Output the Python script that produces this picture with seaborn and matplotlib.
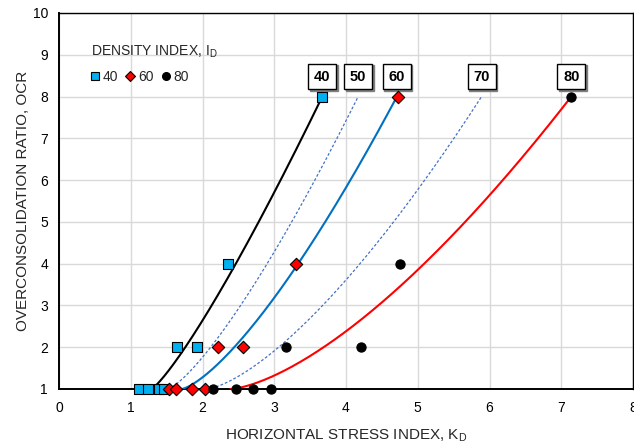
import numpy as np
import pandas as pd
import matplotlib
matplotlib.use("Agg")
import matplotlib.pyplot as plt
import matplotlib.transforms as mtransforms
from matplotlib.lines import Line2D
from matplotlib.ticker import MultipleLocator
import seaborn as sns

sns.set_style("white")
plt.rcParams["font.family"] = ["Liberation Sans", "DejaVu Sans"]
plt.rcParams["mathtext.fontset"] = "custom"
plt.rcParams["mathtext.rm"] = "Liberation Sans"

# Measured points: horizontal stress index K_D and OCR for each density index
kd_40 = [1.12, 1.24, 1.39, 1.47, 1.65, 1.92, 2.35, 3.67]
ocr_40 = [1, 1, 1, 1, 2, 2, 4, 8]
kd_60 = [1.54, 1.63, 1.86, 2.03, 2.21, 2.57, 3.30, 4.72]
ocr_60 = [1, 1, 1, 1, 2, 2, 4, 8]
kd_80 = [2.14, 2.46, 2.70, 2.95, 3.17, 4.21, 4.75, 7.14]
ocr_80 = [1, 1, 1, 1, 2, 2, 4, 8]

# Correlation curves OCR = 1 + 7*((K_D - K0)/(K8 - K0))**n, one per density index
curve_id = [40, 50, 60, 70, 80]
curve_k0 = [1.29, 1.52, 1.71, 2.06, 2.39]
curve_k8 = [3.67, 4.17, 4.71, 5.89, 7.14]
curve_n = [1.20, 1.30, 1.38, 1.45, 1.50]
curve_color = ["#000000", "#4472C4", "#0070C0", "#4472C4", "#FF0000"]
curve_dashed = [False, True, False, True, False]

label_y = 8.48

fig = plt.figure(figsize=(6.34, 4.46), dpi=100)
ax = fig.add_axes([59 / 634, 1 - 389 / 446, 574 / 634, 376 / 446])

for cid, k0, k8, n, col, dsh in zip(curve_id, curve_k0, curve_k8, curve_n,
                                    curve_color, curve_dashed):
    kk = np.linspace(k0, k8, 200)
    oc = 1 + 7 * ((kk - k0) / (k8 - k0)) ** n
    df = pd.DataFrame({"KD": kk, "OCR": oc})
    line_kw = dict(linewidth=0.9) if dsh else dict(linewidth=1.5)
    sns.lineplot(data=df, x="KD", y="OCR", color=col, ax=ax, zorder=3,
                 estimator=None, sort=False, **line_kw)
    if dsh:
        ax.lines[-1].set_linestyle((0, (2.2, 1.6)))

    # boxed curve label with a small drop shadow
    shadow = mtransforms.offset_copy(ax.transData, fig=fig, x=1.5, y=-1.5, units="dots")
    ax.text(k8, label_y, str(cid), ha="center", va="center", fontsize=10.5,
            fontweight="bold", color="#808080", transform=shadow, zorder=4,
            bbox=dict(boxstyle="square,pad=0.4", fc="#808080", ec="#808080", lw=1))
    ax.text(k8, label_y, str(cid), ha="center", va="center", fontsize=10.5,
            fontweight="bold", color="black", zorder=5,
            bbox=dict(boxstyle="square,pad=0.4", fc="white", ec="black", lw=1))

pts = pd.concat([
    pd.DataFrame({"KD": kd_40, "OCR": ocr_40, "ID": "40"}),
    pd.DataFrame({"KD": kd_60, "OCR": ocr_60, "ID": "60"}),
    pd.DataFrame({"KD": kd_80, "OCR": ocr_80, "ID": "80"}),
])
marker_style = {
    "40": dict(marker="s", color="#00B0F0", s=42),
    "60": dict(marker="D", color="#FF0000", s=40),
    "80": dict(marker="o", color="#000000", s=44),
}
for key, sty in marker_style.items():
    sub = pts[pts["ID"] == key]
    sns.scatterplot(data=sub, x="KD", y="OCR", marker=sty["marker"], color=sty["color"],
                    s=sty["s"], edgecolor="black", linewidth=0.8, ax=ax, zorder=6,
                    clip_on=False, legend=False)

ax.set_xlim(0, 8)
ax.set_ylim(1, 10)
ax.xaxis.set_major_locator(MultipleLocator(1))
ax.xaxis.set_minor_locator(MultipleLocator(0.5))
ax.yaxis.set_major_locator(MultipleLocator(1))
ax.yaxis.set_minor_locator(MultipleLocator(0.5))
ax.grid(True, which="major", color="#d9d9d9", linewidth=1)
ax.set_axisbelow(True)
ax.tick_params(axis="x", which="both", direction="inout", length=5, width=1,
               labelsize=10, pad=6, colors="black")
ax.tick_params(axis="y", which="both", direction="out", length=4, width=1,
               labelsize=10, pad=4, colors="black")
for sp in ax.spines.values():
    sp.set_color("black")
    sp.set_linewidth(1.0)
ax.spines["left"].set_linewidth(1.4)
ax.spines["bottom"].set_linewidth(1.4)

ax.set_xlabel(r"HORIZONTAL STRESS INDEX, K$_\mathregular{D}$", fontsize=11, labelpad=9)
ax.set_ylabel("OVERCONSOLIDATION RATIO, OCR", fontsize=11, labelpad=2)

# density index legend
ax.text(0.055, 0.897, r"DENSITY INDEX, I$_\mathregular{D}$", transform=ax.transAxes,
        fontsize=10, ha="left", va="center")
handles = [
    Line2D([], [], linestyle="none", marker="s", markersize=5.5, markerfacecolor="#00B0F0",
           markeredgecolor="black", markeredgewidth=0.8, label="40"),
    Line2D([], [], linestyle="none", marker="D", markersize=5.5, markerfacecolor="#FF0000",
           markeredgecolor="black", markeredgewidth=0.8, label="60"),
    Line2D([], [], linestyle="none", marker="o", markersize=5.5, markerfacecolor="black",
           markeredgecolor="black", label="80"),
]
ax.legend(handles=handles, loc="center left", bbox_to_anchor=(0.045, 0.83), ncol=3,
          frameon=False, fontsize=10, handlelength=0.6, handletextpad=0.25,
          columnspacing=0.6, borderaxespad=0)

fig.savefig("out.png", dpi=100)
